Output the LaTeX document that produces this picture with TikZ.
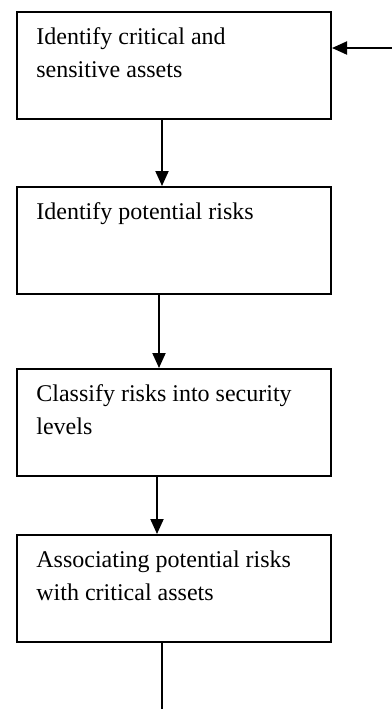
\documentclass[tikz,border=0pt]{standalone}
\usepackage{fontspec}
\setmainfont{Liberation Serif}
\usetikzlibrary{arrows.meta}

\begin{document}
\begin{tikzpicture}[
	x=0.5pt, y=-0.5pt,
	box/.style={draw, line width=1pt, minimum width=157pt, minimum height=53.5pt, inner sep=0pt},
	steptext/.style={anchor=north west, align=left, inner sep=0pt, font=\fontsize{12}{16.5}\selectfont},
	flow/.style={-{Triangle[length=7.5pt,width=6.5pt]}, line width=1pt}
	]
	\useasboundingbox (0,0) rectangle (392,709);

	% Boxes
	\node[box] (b1) at (174,65.5) {};
	\node[box] (b2) at (174,240.5) {};
	\node[box] (b3) at (174,422.5) {};
	\node[box] (b4) at (174,588.5) {};

	% Box texts
	\node[steptext] (t1) at ([xshift=10pt,yshift=-8pt]b1.north west) {Identify critical and\\sensitive assets};
	\node[steptext] (t2) at ([xshift=10pt,yshift=-8pt]b2.north west) {Identify potential risks};
	\node[steptext] (t3) at ([xshift=10pt,yshift=-8pt]b3.north west) {Classify risks into security\\levels};
	\node[steptext] (t4) at ([xshift=10pt,yshift=-8pt]b4.north west) {Associating potential risks\\with critical assets};

	% Arrows
	\coordinate (back) at (392,48);
	\coordinate (out) at (162,709);
	\draw[flow] (back) -- (back -| b1.east);
	\draw[flow] ([xshift=-6pt]b1.south) -- ([xshift=-6pt]b2.north);
	\draw[flow] ([xshift=-7.5pt]b2.south) -- ([xshift=-7.5pt]b3.north);
	\draw[flow] ([xshift=-8.5pt]b3.south) -- ([xshift=-8.5pt]b4.north);
	\draw[line width=0.8pt] ([xshift=-6pt]b4.south) -- (out);
\end{tikzpicture}
\end{document}
